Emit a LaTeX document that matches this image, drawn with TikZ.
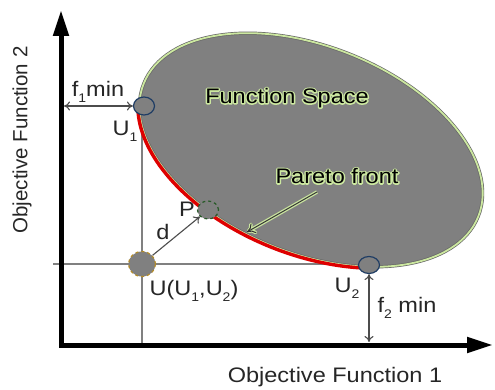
\documentclass[tikz,border=0pt]{standalone}
\usepackage{fontspec}
\setmainfont{Liberation Sans}
\usetikzlibrary{arrows.meta,shapes.geometric}
\definecolor{lg}{RGB}{204,232,160}
\definecolor{spacegray}{RGB}{128,128,128}
\definecolor{navy}{RGB}{30,60,100}
\definecolor{dgreen}{RGB}{40,90,40}
\definecolor{ochre}{RGB}{180,140,40}
\definecolor{pred}{RGB}{222,0,0}
\newcommand\sub[1]{\raisebox{-0.28em}{\fontsize{12.5}{12.5}\selectfont #1}}
\newcommand\halo[1]{\makebox[0pt][l]{\color{lg}\special{pdf:literal direct 1 Tr 2.6 w 1 j}#1\special{pdf:literal direct 0 Tr}}#1}
\begin{document}
\begin{tikzpicture}[x=1pt,y=1pt,
  txt/.style={font=\fontsize{21}{25}\selectfont, text=black!85, xscale=1.12, transform shape, inner sep=0pt},
  guide/.style={draw=black!50, line width=1.5pt},
  axis/.style={line width=5pt, line join=miter, {Triangle[length=26pt,width=15pt]}-{Triangle[length=26pt,width=15pt]}},
  dim/.style={draw=black!70, line width=1.1pt, {To[length=6pt,width=9pt]}-{To[length=6pt,width=9pt]}},
  oneway/.style={draw=black!70, line width=1.1pt, -{To[length=6pt,width=9pt]}},
  parrow/.style={draw=black!80, line width=1pt, -{To[length=8pt,width=11pt]},
     preaction={draw=lg, line width=3.5pt, -{To[length=9pt,width=13pt]}}},
  pt/.style={ellipse, minimum width=21pt, minimum height=18pt, inner sep=0pt, fill=spacegray, line width=1.2pt},
]
\useasboundingbox (0,0) rectangle (495,389);

\coordinate (ytip) at (61,379);
\coordinate (origin) at (61,44);
\coordinate (xtip) at (493,44);
\coordinate (hl) at (53,125);
\coordinate (hr) at (400,125);
\coordinate (vt) at (142,299);
\coordinate (vb) at (142,41);

\draw[guide] (hl) -- (hr);
\draw[guide] (vt) -- (vb);

\begin{scope}[shift={(311,239)}, rotate=-21.6]
  \draw[draw=black!60, line width=3.2pt, fill=spacegray] (0,0) ellipse [x radius=180, y radius=103.5];
  \draw[lg, line width=1.8pt] (0,0) ellipse [x radius=180, y radius=103.5];
  \draw[pred, line width=3.4pt] (192:181.5 and 105) arc [start angle=192, end angle=303, x radius=181.5, y radius=105];
\end{scope}

\draw[axis] (ytip) -- (origin) -- (xtip);

\node[pt, draw=navy] (U1) at (144,283) {};
\node[pt, draw=navy, minimum height=17pt] (U2) at (369,124) {};
\node[pt, draw=dgreen, dashed] (P) at (208,179) {};
\node[pt, draw=ochre, dashed, minimum width=27pt, minimum height=25pt] (U) at (142,125) {};

\coordinate (ya) at (64,283);
\coordinate (xa) at (369,47);
\draw[dim] (ya) -- (U1.west);
\draw[dim] (U2.south) -- (xa);
\draw[oneway] (U) -- (P);

\coordinate (pa) at (317,197);
\coordinate (pb) at (247,157);
\draw[parrow] (pa) -- (pb);

\node[font=\fontsize{20.5}{24}\selectfont, text=black!85, rotate=90, inner sep=0pt] (yl) at (22,249) {Objective Function 2};
\node[txt] (xl) at (335,12) {Objective Function 1};
\node[txt] (f1) at (98,297) {f\sub{1}min};
\node[txt] (u1l) at (125,258) {U\sub{1}};
\node[txt, text=black] (fs) at (287,291) {\halo{Function Space}};
\node[txt, text=black] (pf) at (337,213) {\halo{Pareto front}};
\node[txt] (pl) at (187,180) {P};
\node[txt] (dl) at (163,157) {d};
\node[txt] (ul) at (194,98) {U(U\sub{1},U\sub{2})};
\node[txt] (u2l) at (347,101) {U\sub{2}};
\node[txt] (f2) at (407,81) {f\sub{2} min};
\end{tikzpicture}
\end{document}
